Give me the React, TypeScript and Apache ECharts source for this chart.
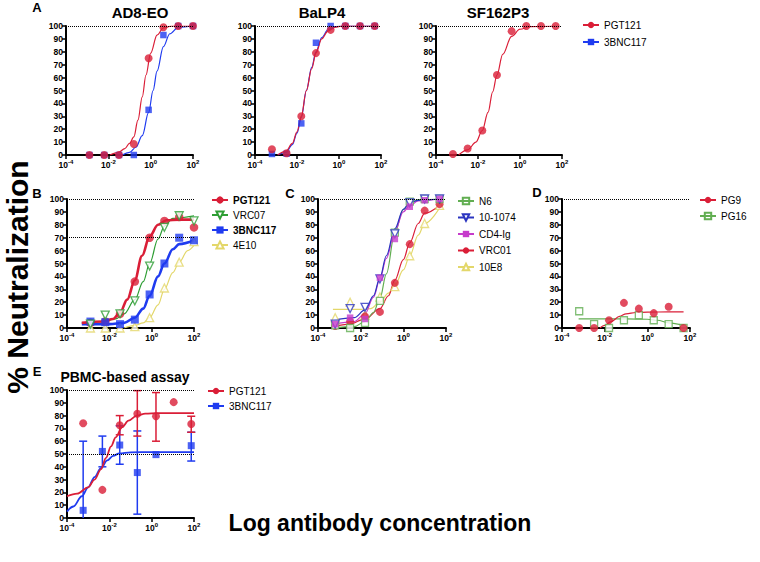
import React, { useEffect, useRef } from 'react';
import * as echarts from 'echarts';

const FONT = "Arial, 'Liberation Sans', Helvetica, sans-serif";

// ---------- concentrations ----------
const concA1 = [0.00128, 0.0064, 0.032, 0.16, 0.8, 4, 20, 100];
const conc50 = [0.00064, 0.0032, 0.016, 0.08, 0.4, 2, 10, 50];
const concB = [0.00128, 0.0064, 0.032, 0.16, 0.8, 4, 20, 100];
const concERed = [0.00058, 0.0047, 0.031, 0.21, 1.6, 11, 74];
const concEBlue = [0.00058, 0.0047, 0.031, 0.21, 1.6, 74];

// ---------- Panel A: AD8-EO ----------
const a1Pgt121 = [0, 0, 0, 8.5, 75, 99, 100, 100];
const a1Bnc117 = [0, 0, 0, 0, 35, 93, 100, 100];
const a1Pgt121FitX = [0.012, 0.03, 0.06, 0.1, 0.16, 0.25, 0.4, 0.6, 1, 2, 4, 10, 100];
const a1Pgt121FitY = [0, 2, 5, 9, 14, 27, 45, 62, 79, 93, 98.5, 100, 100];
const a1Bnc117FitX = [0.045, 0.1, 0.2, 0.4, 0.8, 1.3, 2, 4, 8, 20, 100];
const a1Bnc117FitY = [0, 2, 6, 15, 33, 50, 65, 84, 94, 99, 100];

// ---------- Panel A: BaLP4 ----------
const a2Pgt121 = [4.4, 1.3, 30, 79, 97, 100, 100, 100];
const a2Bnc117 = [0.8, 1, 24.5, 87, 100, 100, 100, 100];
const a2FitX = [0.0012, 0.003, 0.006, 0.01, 0.016, 0.028, 0.05, 0.08, 0.15, 0.3, 0.6, 1.5, 50];
const a2Pgt121FitY = [0, 3, 9, 18, 30, 50, 67, 79, 90, 96, 99, 100, 100];
const a2Bnc117FitY = [0, 2, 8, 17, 29, 50, 68, 80, 91, 97, 99.5, 100, 100];

// ---------- Panel A: SF162P3 ----------
const a3Pgt121 = [0.8, 5, 19, 62, 96, 100, 100, 100];
const a3FitX = [0.0012, 0.0032, 0.008, 0.016, 0.03, 0.05, 0.08, 0.15, 0.4, 1, 3, 50];
const a3FitY = [0, 4, 10, 19, 33, 49, 62, 78, 92, 97.5, 99.5, 100];

// ---------- Panel B ----------
const bPgt121 = [4, 5, 11, 36, 70, 83, 86, 78];
const bVrc07 = [3, 10, 11, 21, 48, 78, 87, 83];
const bBnc117 = [5, 4.5, 3, 6.5, 26, 50, 70, 68];
const b4e10 = [0, 0, 0, 1, 8, 31, 51, 67];
const bPgt121FitX = [0.0005, 0.005, 0.015, 0.032, 0.07, 0.16, 0.35, 0.8, 2, 5, 20, 100];
const bPgt121FitY = [4, 5, 7, 12, 22, 37, 56, 71, 80, 83.5, 84, 84];
const bVrc07FitX = [0.0005, 0.005, 0.02, 0.05, 0.16, 0.4, 0.8, 2, 4, 10, 100];
const bVrc07FitY = [4, 5, 7, 11, 22, 36, 50, 69, 79, 85, 87];
const bBnc117FitX = [0.0005, 0.01, 0.05, 0.16, 0.4, 0.8, 2, 4, 10, 20, 100];
const bBnc117FitY = [3, 3, 4, 8, 15, 25, 40, 50, 61, 65, 68];
const b4e10FitX = [0.05, 0.16, 0.4, 0.8, 2, 4, 10, 20, 50, 100];
const b4e10FitY = [0, 2, 4, 8, 18, 30, 43, 51, 60, 64];

// ---------- Panel C ----------
const cN6 = [2, 0, 4, 21, 74, 98, 100, 100];
const c101074 = [3, 15, 16, 38, 73, 97, 100, 100];
const cCd4Ig = [3, 8, 7, 39, 69, 94, 99, 100];
const cVrc01 = [1.5, 5, 9, 12.5, 35, 65, 91, 96];
const c10e8 = [8, 20, 10, 24, 32, 56, 81, 95];
const cFitX = [0.0005, 0.005, 0.016, 0.04, 0.08, 0.16, 0.4, 1, 2, 5, 50];
const cN6FitY = [0, 1, 5, 12, 23, 42, 74, 92, 97, 99.5, 100];
const c101074FitY = [6, 8, 14, 25, 39, 56, 77, 92, 97, 99, 100];
const cCd4IgFitY = [3, 5, 11, 24, 38, 54, 75, 90, 95, 98.5, 100];
const cVrc01FitX = [0.0005, 0.003, 0.016, 0.08, 0.2, 0.4, 1, 2, 5, 10, 50];
const cVrc01FitY = [1, 3, 7, 15, 25, 37, 53, 66, 81, 89, 95];
const c10e8FitX = [0.0005, 0.01, 0.03, 0.08, 0.2, 0.4, 1, 2, 5, 10, 50];
const c10e8FitY = [14.5, 14.5, 15, 20, 27, 33, 45, 56, 72, 81, 93];

// ---------- Panel D ----------
const dPg9 = [0, 0, 6, 19.5, 15, 11.5, 16.5, 0];
const dPg16 = [13, 3, 0, 6, 10, 6, 3, 0];
const dPg9FitX = [0.006, 0.01, 0.02, 0.05, 0.1, 0.3, 1, 10, 50];
const dPg9FitY = [0, 2, 5, 9, 11, 12, 12.3, 12.5, 12.5];
const dPg16FitX = [0.0006, 0.01, 0.1, 1, 3, 10, 50];
const dPg16FitY = [7, 7, 7, 6.8, 6, 4, 2];

// ---------- Panel E ----------
const ePgt121 = [74, 22, 72.5, 81.5, 79.5, 90.5, 73.5];
const eBnc117 = [6, 52, 57, 35.5, 49.5, 56.5];
const eRedErrX = [0.031, 0.21, 1.6, 74];
const eRedErrLow = [65, 64, 60, 67];
const eRedErrHigh = [80, 99.5, 98, 79.5];
const eBlueErrX = [0.00058, 0.0047, 0.031, 0.21, 74];
const eBlueErrLow = [-48, 40, 42, 3, 44.5];
const eBlueErrHigh = [60, 64, 72, 68, 67];
const ePgt121FitX = [1e-4, 3e-4, 1e-3, 2e-3, 4e-3, 7e-3, 0.012, 0.02, 0.04, 0.08, 0.2, 0.5, 2, 100];
const ePgt121FitY = [17, 19, 24, 30, 38, 47, 56, 63, 71, 76, 80, 81.5, 82, 82];
const eBnc117FitX = [1e-4, 2e-4, 5e-4, 1e-3, 2e-3, 4e-3, 8e-3, 0.015, 0.03, 0.1, 1, 100];
const eBnc117FitY = [5, 9, 17, 24, 32, 39, 45, 48.5, 50.5, 51.3, 51.5, 51.5];

const xTicks = [1e-4, 1e-2, 1, 100];

// ---------- styles ----------
const RED = '#DA1E37';
const BLUE = '#1F3BF0';
const GREEN_B = '#2E9E34';
const YELLOW = '#E3D76A';
const GREEN_C = '#62AE52';
const BLUE_C = '#2B35C0';
const MAGENTA = '#C63BCB';

const grids = [
  { left: 66, top: 26, width: 127, height: 129 },
  { left: 255, top: 26, width: 126, height: 129 },
  { left: 436, top: 26, width: 126, height: 129 },
  { left: 67, top: 199, width: 127, height: 129 },
  { left: 318, top: 199, width: 128, height: 129 },
  { left: 562, top: 199, width: 128, height: 129 },
  { left: 67, top: 390, width: 127, height: 128 },
];

const zip = (xs: number[], ys: number[]) => xs.map((x, i) => [x, ys[i]]);

function fit(name: string, g: number, xs: number[], ys: number[], color: string, width: number, symbol: string, open = false, rotate = 0) {
  return {
    type: 'line', name, xAxisIndex: g, yAxisIndex: g, data: zip(xs, ys),
    smooth: 0.35, smoothMonotone: 'x', showSymbol: false, symbol, symbolRotate: rotate,
    lineStyle: { color, width }, itemStyle: open ? { color: '#fff', borderColor: color, borderWidth: 1.3 } : { color },
    silent: true, z: 2, clip: true,
  };
}

function pts(name: string, g: number, xs: number[], ys: number[], color: string, symbol: string, size: number, open = false, rotate = 0) {
  return {
    type: 'scatter', name, xAxisIndex: g, yAxisIndex: g, data: zip(xs, ys),
    symbol, symbolSize: size, symbolRotate: rotate,
    itemStyle: open ? { color: '#fff', borderColor: color, borderWidth: 1.3 } : { color },
    silent: true, z: 3,
  };
}

function refLines(g: number, values: number[]) {
  return {
    type: 'line', xAxisIndex: g, yAxisIndex: g, data: [], silent: true,
    markLine: {
      silent: true, symbol: 'none', label: { show: false },
      lineStyle: { type: 'dotted', color: '#000', width: 1 },
      data: values.map((v) => ({ yAxis: v })),
    },
  };
}

function errBars(g: number, xs: number[], lo: number[], hi: number[], color: string) {
  return {
    type: 'custom', xAxisIndex: g, yAxisIndex: g, silent: true, z: 2,
    data: xs.map((x, i) => [x, lo[i], hi[i]]),
    renderItem: (_p: any, api: any) => {
      const x = api.value(0);
      const l = api.value(1);
      const h = api.value(2);
      const pH = api.coord([x, h]);
      const pL = api.coord([x, Math.max(l, 0)]);
      const st = { stroke: color, lineWidth: 1.5 };
      const children: any[] = [
        { type: 'line', shape: { x1: pH[0], y1: pH[1], x2: pL[0], y2: pL[1] }, style: st },
        { type: 'line', shape: { x1: pH[0] - 4, y1: pH[1], x2: pH[0] + 4, y2: pH[1] }, style: st },
      ];
      if (l > 0) children.push({ type: 'line', shape: { x1: pL[0] - 4, y1: pL[1], x2: pL[0] + 4, y2: pL[1] }, style: st });
      return { type: 'group', children };
    },
  };
}

const legendFmt = (n: string) => n.split('|')[1];

function legend(names: (string | { name: string; textStyle?: any; itemStyle?: any })[], left: number, top: number, gap: number, itemHeight = 8) {
  return {
    data: names, left, top, orient: 'vertical', itemWidth: 16, itemHeight, itemGap: gap,
    formatter: legendFmt, selectedMode: false, padding: 0,
    textStyle: { fontSize: 10, fontFamily: FONT, color: '#000', lineHeight: 12 },
  };
}

function text(t: string, x: number, y: number, size: number, weight = 'bold', align = 'center', rotation = 0) {
  return {
    type: 'text', x, y, rotation, silent: true,
    style: {
      text: t, fill: '#000', font: `${weight} ${size}px ${FONT}`,
      textAlign: align, textVerticalAlign: 'middle', align, verticalAlign: 'middle',
    },
  };
}

export default function App() {
  const ref = useRef<HTMLDivElement>(null);
  useEffect(() => {
    if (!ref.current) return;
    const chart = echarts.init(ref.current, null, { renderer: 'svg' });

    const xAxis = grids.map((_, i) => ({
      type: 'log', logBase: 100, gridIndex: i, min: xTicks[0], max: xTicks[xTicks.length - 1],
      axisLine: { show: true, lineStyle: { color: '#000', width: 2 } },
      axisTick: { show: true, length: 4, lineStyle: { color: '#000', width: 1.5 } },
      minorTick: { show: false }, splitLine: { show: false },
      axisLabel: {
        margin: 4,
        formatter: (v: number) => `{b|10}{s|${Math.round(Math.log10(v))}}`,
        rich: {
          b: { fontSize: 8.5, fontWeight: 'bold', fontFamily: FONT, color: '#000', lineHeight: 11 },
          s: { fontSize: 6, fontWeight: 'bold', fontFamily: FONT, color: '#000', verticalAlign: 'top', lineHeight: 11 },
        },
      },
    }));
    const yAxis = grids.map((_, i) => ({
      type: 'value', gridIndex: i, min: 0, max: 100, interval: 10,
      axisLine: { show: true, lineStyle: { color: '#000', width: 2 } },
      axisTick: { show: true, length: 4, lineStyle: { color: '#000', width: 1.5 } },
      splitLine: { show: false },
      axisLabel: { margin: 3, fontSize: 8.5, fontWeight: 'bold', fontFamily: FONT, color: '#000' },
    }));

    const series: any[] = [
      // reference lines
      refLines(0, [100]), refLines(1, [100]), refLines(2, [100]),
      refLines(3, [100, 70]), refLines(4, [100]), refLines(5, [100]), refLines(6, [100, 50]),
      // A1
      fit('A|3BNC117', 0, a1Bnc117FitX, a1Bnc117FitY, BLUE, 1.2, 'rect'),
      fit('A|PGT121', 0, a1Pgt121FitX, a1Pgt121FitY, RED, 1.2, 'circle'),
      pts('A1 3BNC117', 0, concA1, a1Bnc117, BLUE, 'rect', 6.5),
      pts('A1 PGT121', 0, concA1, a1Pgt121, RED, 'circle', 8),
      // A2
      fit('A2|3BNC117', 1, a2FitX, a2Bnc117FitY, BLUE, 1.2, 'rect'),
      fit('A2|PGT121', 1, a2FitX, a2Pgt121FitY, RED, 1.2, 'circle'),
      pts('A2 3BNC117', 1, conc50, a2Bnc117, BLUE, 'rect', 6.5),
      pts('A2 PGT121', 1, conc50, a2Pgt121, RED, 'circle', 8),
      // A3
      fit('A3|PGT121', 2, a3FitX, a3FitY, RED, 1.2, 'circle'),
      pts('A3 PGT121', 2, conc50, a3Pgt121, RED, 'circle', 8),
      // B
      fit('B|4E10', 3, b4e10FitX, b4e10FitY, YELLOW, 1.2, 'triangle', true),
      fit('B|3BNC117', 3, bBnc117FitX, bBnc117FitY, BLUE, 2.6, 'rect'),
      fit('B|VRC07', 3, bVrc07FitX, bVrc07FitY, GREEN_B, 1.2, 'triangle', true, 180),
      fit('B|PGT121', 3, bPgt121FitX, bPgt121FitY, RED, 2.6, 'circle'),
      pts('B 4E10', 3, concB, b4e10, YELLOW, 'triangle', 8, true),
      pts('B PGT121', 3, concB, bPgt121, RED, 'circle', 8.5),
      pts('B 3BNC117', 3, concB, bBnc117, BLUE, 'rect', 8),
      pts('B VRC07', 3, concB, bVrc07, GREEN_B, 'triangle', 8, true, 180),
      // C
      fit('C|10E8', 4, c10e8FitX, c10e8FitY, YELLOW, 1.2, 'triangle', true),
      fit('C|VRC01', 4, cVrc01FitX, cVrc01FitY, RED, 1.2, 'circle'),
      fit('C|N6', 4, cFitX, cN6FitY, GREEN_C, 1.2, 'rect', true),
      fit('C|CD4-Ig', 4, cFitX, cCd4IgFitY, MAGENTA, 1.2, 'rect'),
      fit('C|10-1074', 4, cFitX, c101074FitY, BLUE_C, 1.2, 'triangle', true, 180),
      pts('C 10E8', 4, conc50, c10e8, YELLOW, 'triangle', 8, true),
      pts('C VRC01', 4, conc50, cVrc01, RED, 'circle', 8),
      pts('C N6', 4, conc50, cN6, GREEN_C, 'rect', 7, true),
      pts('C 10-1074', 4, conc50, c101074, BLUE_C, 'triangle', 8, true, 180),
      pts('C CD4-Ig', 4, conc50, cCd4Ig, MAGENTA, 'rect', 6.5),
      // D
      fit('D|PG16', 5, dPg16FitX, dPg16FitY, GREEN_C, 1.2, 'rect', true),
      fit('D|PG9', 5, dPg9FitX, dPg9FitY, RED, 1.2, 'circle'),
      pts('D PG16', 5, conc50, dPg16, GREEN_C, 'rect', 7, true),
      pts('D PG9', 5, conc50, dPg9, RED, 'circle', 8),
      // E
      errBars(6, eBlueErrX, eBlueErrLow, eBlueErrHigh, BLUE),
      errBars(6, eRedErrX, eRedErrLow, eRedErrHigh, RED),
      fit('E|3BNC117', 6, eBnc117FitX, eBnc117FitY, BLUE, 1.8, 'rect'),
      fit('E|PGT121', 6, ePgt121FitX, ePgt121FitY, RED, 1.8, 'circle'),
      pts('E 3BNC117', 6, concEBlue, eBnc117, BLUE, 'rect', 7),
      pts('E PGT121', 6, concERed, ePgt121, RED, 'circle', 8),
    ];

    const clear = { color: 'rgba(0,0,0,0)' };

    chart.setOption({
      animation: false,
      backgroundColor: '#fff',
      grid: grids.map((g) => ({ ...g, containLabel: false })),
      xAxis, yAxis, series,
      legend: [
        legend(['A|PGT121', 'A|3BNC117'], 582, 19, 5),
        legend([
          { name: 'B|PGT121', textStyle: { fontWeight: 'bold' } },
          'B|VRC07',
          { name: 'B|3BNC117', textStyle: { fontWeight: 'bold' } },
          'B|4E10',
        ], 211, 194, 3, 9),
        legend([{ name: 'C|N6', itemStyle: clear }, 'C|10-1074', 'C|CD4-Ig', 'C|VRC01', 'C|10E8'], 457, 195, 4.5),
        legend(['D|PG9', { name: 'D|PG16', itemStyle: clear }], 699, 194, 4),
        legend(['E|PGT121', 'E|3BNC117'], 207, 385, 3),
      ],
      graphic: [
        text('A', 37, 7, 13),
        text('B', 37, 193, 13),
        text('C', 290, 193, 13),
        text('D', 537, 192, 13),
        text('E', 37, 371, 13),
        text('AD8-EO', 140, 12, 15),
        text('BaLP4', 322, 12, 15),
        text('SF162P3', 498, 12, 15),
        text('PBMC-based assay', 125, 377, 14),
        text('% Neutralization', 17, 277, 30, 'bold', 'center', Math.PI / 2),
        text('Log antibody concentration', 380, 523, 23),
      ],
    });
    return () => chart.dispose();
  }, []);
  return <div ref={ref} style={{ position: 'fixed', left: 0, top: 0, width: 760, height: 562 }} />;
}
